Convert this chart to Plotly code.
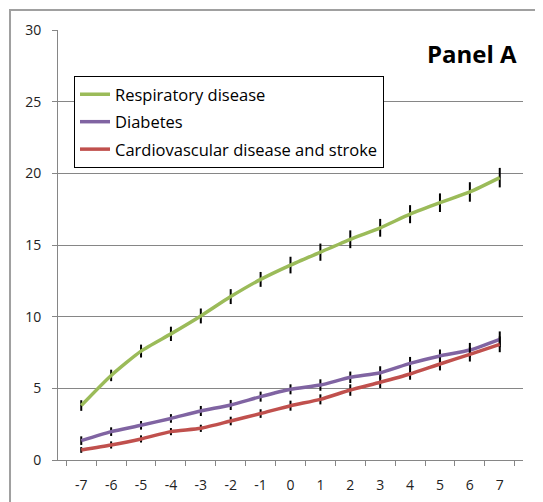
import plotly.graph_objects as go

years = ["-7", "-6", "-5", "-4", "-3", "-2", "-1", "0", "1", "2", "3", "4", "5", "6", "7"]

respiratory = [3.8, 5.9, 7.6, 8.8, 10.05, 11.4, 12.6, 13.6, 14.5, 15.4, 16.2, 17.15, 17.95, 18.7, 19.7]
respiratory_err = [0.37, 0.4, 0.45, 0.5, 0.52, 0.52, 0.52, 0.58, 0.6, 0.62, 0.62, 0.63, 0.65, 0.68, 0.68]

diabetes = [1.35, 1.98, 2.42, 2.9, 3.42, 3.84, 4.42, 4.93, 5.23, 5.77, 6.09, 6.74, 7.26, 7.67, 8.42]
diabetes_err = [0.3, 0.3, 0.3, 0.3, 0.35, 0.35, 0.35, 0.35, 0.4, 0.4, 0.45, 0.45, 0.45, 0.5, 0.55]

cardio = [0.7, 1.05, 1.47, 1.98, 2.21, 2.72, 3.24, 3.79, 4.23, 4.88, 5.42, 6.0, 6.7, 7.37, 8.07]
cardio_err = [0.2, 0.25, 0.25, 0.25, 0.25, 0.3, 0.3, 0.35, 0.35, 0.4, 0.4, 0.4, 0.45, 0.5, 0.55]

series = [
    ("Respiratory disease", respiratory, respiratory_err, "#9BBB59"),
    ("Diabetes", diabetes, diabetes_err, "#8064A2"),
    ("Cardiovascular disease and stroke", cardio, cardio_err, "#C0504D"),
]

fig = go.Figure()
for name, vals, errs, color in series:
    fig.add_trace(go.Scatter(
        x=years, y=vals, name=name, mode="lines", legendgroup=name,
        line=dict(color=color, width=3.5, shape="spline", smoothing=0.6),
        error_y=dict(type="data", array=errs, visible=True, color="black", thickness=2, width=0),
    ))

fig.update_layout(
    width=535, height=494,
    margin=dict(l=50, r=20, t=22, b=42, autoexpand=False),
    paper_bgcolor="white", plot_bgcolor="white",
    font=dict(family="Open Sans, sans-serif", color="#222", size=14),
    showlegend=True,
    legend=dict(
        x=0.0344, y=0.893, xanchor="left", yanchor="top",
        bgcolor="white", bordercolor="black", borderwidth=1,
        font=dict(size=16.5, family="Open Sans, sans-serif", color="black"),
        tracegroupgap=3, itemwidth=30,
    ),
    xaxis=dict(
        type="category", showgrid=False, showline=True, linecolor="#868686", linewidth=1,
        ticks="outside", tickson="boundaries", ticklen=5, tickcolor="#868686",
        tickfont=dict(size=14, color="#222"), zeroline=False, ticklabelstandoff=12,
    ),
    yaxis=dict(
        range=[0, 30], dtick=5, showgrid=True, gridcolor="#868686", gridwidth=1,
        showline=True, linecolor="#868686", linewidth=1,
        ticks="outside", ticklen=5, tickcolor="#868686",
        tickfont=dict(size=14, color="#222"), zeroline=False, ticklabelstandoff=8,
    ),
    annotations=[dict(
        text="<b>Panel A</b>", xref="paper", yref="paper", x=0.992, y=0.9465,
        xanchor="right", yanchor="middle", showarrow=False,
        font=dict(size=24, color="black", family="Open Sans, sans-serif"),
    )],
    shapes=[dict(
        type="rect", xref="paper", yref="paper", x0=-0.1032, x1=2, y0=-1, y1=1.0465,
        line=dict(color="#a0a0a0", width=2), fillcolor="rgba(0,0,0,0)", layer="below",
    )],
)

fig.write_html("out.html")
